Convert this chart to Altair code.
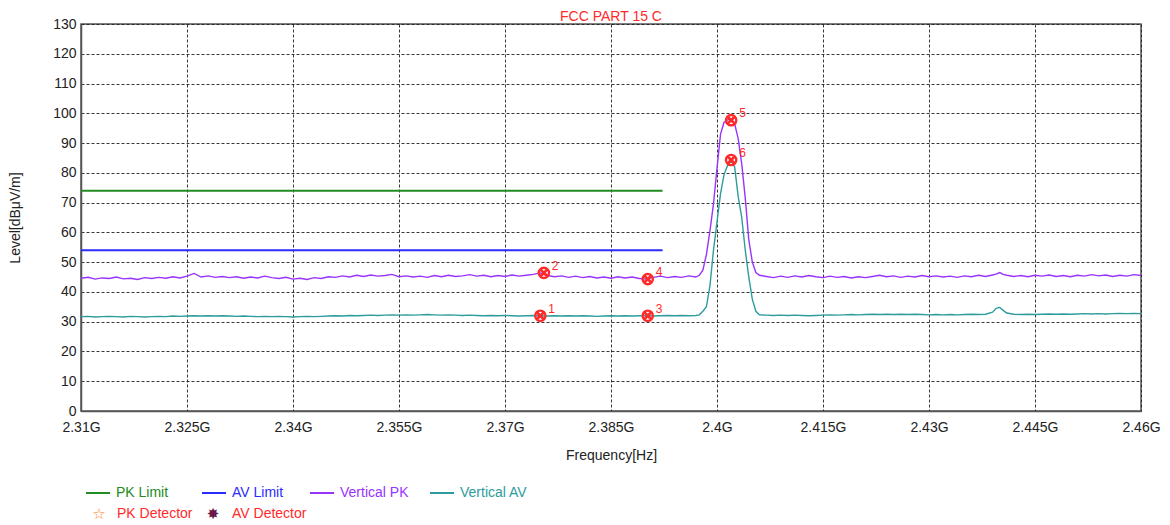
import altair as alt
import pandas as pd

# ---------------- data ----------------
FREQ_LEFT = [2.310, 2.311, 2.312, 2.313, 2.314, 2.315, 2.316, 2.317, 2.318, 2.319,
             2.320, 2.321, 2.322, 2.323, 2.324, 2.325, 2.326, 2.327, 2.328, 2.329,
             2.330, 2.331, 2.332, 2.333, 2.334, 2.335, 2.336, 2.337, 2.338, 2.339,
             2.340, 2.341, 2.342, 2.343, 2.344, 2.345, 2.346, 2.347, 2.348, 2.349,
             2.350, 2.351, 2.352, 2.353, 2.354, 2.355, 2.356, 2.357, 2.358, 2.359,
             2.360, 2.361, 2.362, 2.363, 2.364, 2.365, 2.366, 2.367, 2.368, 2.369,
             2.370, 2.371, 2.372, 2.373, 2.374, 2.375, 2.376, 2.377, 2.378, 2.379,
             2.380, 2.381, 2.382, 2.383, 2.384, 2.385, 2.386, 2.387, 2.388, 2.389,
             2.390, 2.391, 2.392, 2.393, 2.394, 2.395, 2.396, 2.397]
FREQ_PEAK = [2.3975, 2.398, 2.3985, 2.399, 2.3995, 2.400, 2.4005, 2.401, 2.4015,
             2.402, 2.4025, 2.403, 2.4035, 2.404, 2.4045, 2.405, 2.4055, 2.406]
FREQ_RIGHT = [2.407, 2.408, 2.409, 2.410, 2.411, 2.412, 2.413, 2.414, 2.415, 2.416,
              2.417, 2.418, 2.419, 2.420, 2.421, 2.422, 2.423, 2.424, 2.425, 2.426,
              2.427, 2.428, 2.429, 2.430, 2.431, 2.432, 2.433, 2.434, 2.435, 2.436,
              2.437, 2.438, 2.439, 2.4395, 2.440, 2.4405, 2.441, 2.442, 2.443, 2.444,
              2.445, 2.446, 2.447, 2.448, 2.449, 2.450, 2.451, 2.452, 2.453, 2.454,
              2.455, 2.456, 2.457, 2.458, 2.459, 2.460]

PK_LEFT = [44.6, 44.9, 44.3, 44.7, 44.5, 45.0, 44.4, 44.6, 44.2, 44.8,
           44.5, 44.9, 44.6, 45.1, 44.7, 45.3, 46.2, 45.0, 45.4, 44.9,
           45.2, 44.8, 45.1, 44.6, 45.0, 44.7, 45.3, 44.8, 44.5, 44.9,
           44.3, 44.6, 44.2, 44.8, 44.5, 45.1, 44.9, 45.4, 45.0, 45.6,
           45.2, 45.7, 45.3, 45.5, 45.9, 45.1, 45.4, 45.0, 45.3, 44.9,
           45.5, 45.1, 45.6, 45.2, 45.4, 45.8, 45.3, 45.6, 45.1, 45.5,
           45.2, 45.7, 45.3, 45.6, 45.9, 46.4, 45.5, 45.1, 45.4, 44.9,
           45.3, 44.8, 45.2, 44.7, 45.0, 44.6, 45.1, 44.7, 45.0, 44.5,
           44.3, 44.9, 45.3, 44.8, 45.2, 44.9, 45.4, 45.0]
PK_PEAK = [45.6, 47.3, 52.5, 60.5, 69.5, 81.5, 93.0, 97.0, 97.8,
           98.1, 96.5, 91.5, 83.0, 71.5, 57.5, 50.0, 46.5, 45.6]
PK_RIGHT = [45.2, 44.8, 45.3, 44.9, 45.4, 45.0, 45.5, 45.1, 44.8, 45.3,
            44.9, 45.2, 44.7, 45.1, 44.8, 45.2, 45.6, 45.1, 45.4, 44.9,
            45.3, 45.0, 45.5, 45.1, 45.4, 45.0, 45.3, 44.9, 45.4, 45.1,
            45.6, 45.2, 45.7, 46.0, 46.5, 45.9, 45.6, 45.2, 45.5, 45.1,
            45.6, 45.3, 45.7, 45.2, 45.5, 45.1, 45.6, 45.3, 45.8, 45.4,
            45.7, 45.2, 45.6, 45.3, 45.8, 45.5]

AV_LEFT = [31.7, 31.8, 31.6, 31.7, 31.8, 31.7, 31.6, 31.8, 31.7, 31.6,
           31.7, 31.8, 31.7, 31.9, 31.8, 31.9, 32.0, 31.9, 32.0, 31.9,
           32.0, 31.9, 31.8, 31.9, 31.8, 31.7, 31.8, 31.7, 31.8, 31.7,
           31.6, 31.7, 31.8, 31.7, 31.8, 31.9, 32.0, 31.9, 32.1, 32.0,
           32.1, 32.2, 32.1, 32.2, 32.3, 32.2, 32.3, 32.2, 32.3, 32.4,
           32.3, 32.2, 32.3, 32.2, 32.1, 32.2, 32.1, 32.0, 32.1, 32.0,
           32.1, 32.0, 31.9, 32.0, 32.1, 32.0, 31.9, 32.0, 31.9, 32.0,
           31.9, 32.0, 31.9, 31.8, 31.9, 32.0, 31.9, 32.0, 31.9, 32.0,
           32.0, 31.9, 32.0, 32.1, 32.0, 32.1, 32.0, 32.1]
AV_PEAK = [32.3, 33.5, 35.0, 42.0, 54.0, 63.5, 73.0, 79.5, 82.5,
           84.0, 82.0, 72.0, 65.0, 54.0, 45.0, 37.5, 33.5, 32.3]
AV_RIGHT = [32.2, 32.1, 32.2, 32.1, 32.2, 32.1, 32.0, 32.1, 32.2, 32.3,
            32.2, 32.3, 32.4, 32.3, 32.4, 32.5, 32.4, 32.5, 32.4, 32.5,
            32.4, 32.5, 32.4, 32.3, 32.4, 32.3, 32.4, 32.3, 32.4, 32.5,
            32.4, 32.5, 33.2, 34.5, 34.8, 33.8, 32.9, 32.5, 32.4, 32.5,
            32.4, 32.5, 32.6, 32.5, 32.6, 32.5, 32.6, 32.7, 32.6, 32.7,
            32.6, 32.7, 32.8, 32.7, 32.8, 32.7]

LIMIT_FREQ = [2.310, 2.3923]
PK_LIMIT = [74, 74]
AV_LIMIT = [54, 54]

MARKER_ID = ["1", "2", "3", "4", "5", "6"]
MARKER_FREQ = [2.375, 2.3755, 2.3902, 2.3902, 2.402, 2.402]
MARKER_LEVEL = [32.0, 46.4, 32.0, 44.3, 97.7, 84.3]

X_TICKS = [2.31, 2.325, 2.34, 2.355, 2.37, 2.385, 2.4, 2.415, 2.43, 2.445, 2.46]
Y_TICKS = [0, 10, 20, 30, 40, 50, 60, 70, 80, 90, 100, 110, 120, 130]

SERIES = ["PK Limit", "AV Limit", "Vertical PK", "Vertical AV"]
SERIES_COLORS = ["#228B22", "#2B2BFF", "#9933FF", "#2E9C9C"]
RED = "#FF2A2A"

# ---------------- tables ----------------
freq_all = FREQ_LEFT + FREQ_PEAK + FREQ_RIGHT
pk_df = pd.DataFrame({"freq": freq_all, "level": PK_LEFT + PK_PEAK + PK_RIGHT})
av_df = pd.DataFrame({"freq": freq_all, "level": AV_LEFT + AV_PEAK + AV_RIGHT})
pk_lim_df = pd.DataFrame({"freq": LIMIT_FREQ, "level": PK_LIMIT})
av_lim_df = pd.DataFrame({"freq": LIMIT_FREQ, "level": AV_LIMIT})
markers = pd.DataFrame({"id": MARKER_ID, "freq": MARKER_FREQ, "level": MARKER_LEVEL})

FONT = "Liberation Sans"
W, H = 1060, 387

x_enc = alt.X("freq:Q",
              scale=alt.Scale(domain=[2.31, 2.46], nice=False, zero=False),
              axis=alt.Axis(values=X_TICKS, title="Frequency[Hz]",
                            labelExpr="format(datum.value, '.4~f') + 'G'",
                            labelFlush=False, labelPadding=9, titlePadding=14))
y_enc = alt.Y("level:Q",
              scale=alt.Scale(domain=[0, 130], nice=False),
              axis=alt.Axis(values=Y_TICKS, title="Level[dBμV/m]",
                            labelFlush=False, labelPadding=5, titlePadding=30))

layers = []
for df, col, sw in [(pk_lim_df, SERIES_COLORS[0], 2), (av_lim_df, SERIES_COLORS[1], 2),
                    (pk_df, SERIES_COLORS[2], 1.4), (av_df, SERIES_COLORS[3], 1.4)]:
    layers.append(alt.Chart(df).mark_line(strokeWidth=sw, color=col).encode(
        x=x_enc, y=y_enc))

XSHAPE = ("M-1,-0.6L-0.6,-1L0,-0.4L0.6,-1L1,-0.6L0.4,0L1,0.6L0.6,1L0,0.4"
          "L-0.6,1L-1,0.6L-0.4,0Z")
layers.append(alt.Chart(markers).mark_point(shape="circle", filled=False, color=RED,
                                            strokeWidth=2.4, size=105, opacity=1).encode(
    x=x_enc, y=y_enc))
layers.append(alt.Chart(markers).mark_point(shape=XSHAPE, filled=True, color=RED,
                                            size=95, opacity=1).encode(
    x=x_enc, y=y_enc))
layers.append(alt.Chart(markers).mark_text(color=RED, fontSize=12, align="left", dx=8,
                                           dy=-7, font=FONT).encode(
    x=x_enc, y=y_enc, text="id:N"))

# ---------------- legend (drawn below the plot) ----------------
one = pd.DataFrame({"k": [0]})
ROW1, ROW2 = H + 82, H + 103
leg_line_x = [5, 121, 229, 349]
leg_text_x = [35, 151, 259, 379]
for name, col, lx, tx in zip(SERIES, SERIES_COLORS, leg_line_x, leg_text_x):
    layers.append(alt.Chart(one).mark_rule(color=col, strokeWidth=2).encode(
        x=alt.value(lx), x2=alt.value(lx + 24), y=alt.value(ROW1)))
    layers.append(alt.Chart(one).mark_text(color=col, fontSize=14, align="left",
                                           baseline="middle", font=FONT).encode(
        x=alt.value(tx), y=alt.value(ROW1), text=alt.value(name)))

DETECTORS = ["PK Detector", "AV Detector"]
DET_GLYPHS = ["☆", "✸"]
DET_COLORS = ["#FF7F27", "#6B1A4A"]
for name, glyph, col, gx, tx in zip(DETECTORS, DET_GLYPHS, DET_COLORS, [18, 132], [36, 151]):
    layers.append(alt.Chart(one).mark_text(color=col, fontSize=15, align="center",
                                           baseline="middle", font="DejaVu Sans").encode(
        x=alt.value(gx), y=alt.value(ROW2), text=alt.value(glyph)))
    layers.append(alt.Chart(one).mark_text(color=RED, fontSize=14, align="left",
                                           baseline="middle", font=FONT).encode(
        x=alt.value(tx), y=alt.value(ROW2), text=alt.value(name)))

chart = alt.layer(*layers).properties(
    width=W, height=H,
    title=alt.TitleParams("FCC PART 15 C", color=RED, fontSize=14, font=FONT,
                          fontWeight="normal", offset=4, dy=11, anchor="middle"),
    autosize=alt.AutoSizeParams(type="none"),
    padding={"left": 73, "top": 16, "right": 20, "bottom": 112},
    background="white",
).configure_view(
    stroke="#555555", strokeWidth=1.5
).configure_axis(
    grid=True, gridColor="#222222", gridDash=[3, 2], gridWidth=1, gridOpacity=0.9,
    tickSize=0, domainColor="#555555", domainWidth=1.5,
    labelFont=FONT, labelFontSize=14, labelColor="#222222",
    titleFont=FONT, titleFontSize=14, titleColor="#222222", titleFontWeight="normal",
)

chart.save("out.html", embed_options={"renderer": "svg", "actions": False})
